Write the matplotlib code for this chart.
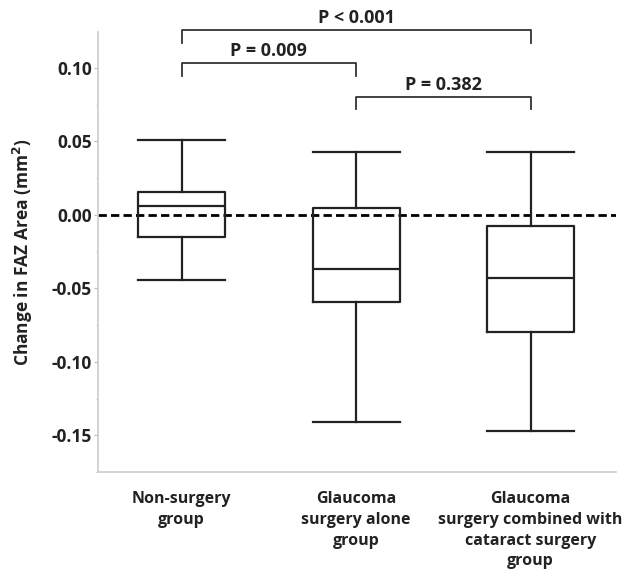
import matplotlib.pyplot as plt
import numpy as np

plt.rcParams['font.family'] = ['Open Sans', 'DejaVu Sans']

# group labels and box statistics
groups = ['Non-surgery\ngroup', 'Glaucoma\nsurgery alone\ngroup',
          'Glaucoma\nsurgery combined with\ncataract surgery\ngroup']
whislo = [-0.044, -0.141, -0.147]
q1 = [-0.015, -0.059, -0.080]
med = [0.006, -0.037, -0.043]
q3 = [0.0155, 0.005, -0.0075]
whishi = [0.051, 0.043, 0.043]

# pairwise comparisons (group index a, group index b, label, bracket height)
pairs = [(0, 2, 'P < 0.001', 0.1257),
         (0, 1, 'P = 0.009', 0.1034),
         (1, 2, 'P = 0.382', 0.0804)]

stats = []
for i in range(len(groups)):
    stats.append(dict(whislo=whislo[i], q1=q1[i], med=med[i], q3=q3[i],
                      whishi=whishi[i], fliers=[]))

fig = plt.figure(figsize=(6.26, 5.77), dpi=100)
ax = fig.add_axes([0.1565, 0.182, 0.8275, 0.7625])

lw = 1.6
pos = np.arange(1, len(groups) + 1)
ax.bxp(stats, positions=pos, widths=0.5, showfliers=False,
       boxprops=dict(color='#222222', linewidth=lw),
       medianprops=dict(color='#222222', linewidth=lw),
       whiskerprops=dict(color='#222222', linewidth=lw),
       capprops=dict(color='#222222', linewidth=lw),
       capwidths=0.5)

ax.axhline(0, color='black', linestyle=(0, (3, 1.5)), linewidth=2, zorder=0)

ax.set_xlim(0.52, 3.49)
ax.set_ylim(-0.173, 0.1245)
ax.set_yticks([-0.15, -0.10, -0.05, 0.00, 0.05, 0.10])
ax.set_yticklabels(['-0.15', '-0.10', '-0.05', '0.00', '0.05', '0.10'],
                   fontsize=12.5, fontweight='bold', color='#222222')
ax.set_yticks(np.arange(-0.175, 0.125, 0.05), minor=True)
ax.set_xticks(pos)
ax.set_xticklabels(groups, fontsize=11.5, fontweight='bold', color='#222222',
                   linespacing=1.38)
ax.tick_params(axis='x', length=0, pad=14)
ax.tick_params(axis='y', which='major', length=3, color='#bbbbbb', pad=1.5)
ax.tick_params(axis='y', which='minor', length=2, color='#dddddd')

for s in ['top', 'right']:
    ax.spines[s].set_visible(False)
for s in ['left', 'bottom']:
    ax.spines[s].set_color('#cccccc')
    ax.spines[s].set_linewidth(1.2)

ax.set_ylabel('Change in FAZ Area (mm$^\\mathbf{2}$)', fontsize=12.5,
              fontweight='bold', color='#222222', labelpad=12)

drop = 0.0085
for a, b, label, h in pairs:
    xa, xb = pos[a], pos[b]
    ax.plot([xa, xa, xb, xb], [h - drop, h, h, h - drop], color='#333333',
            linewidth=1.3, clip_on=False)
    ax.text((xa + xb) / 2, h + 0.002, label, ha='center', va='bottom',
            fontsize=13, fontweight='bold', color='#222222')

fig.savefig('out.png', dpi=100)
